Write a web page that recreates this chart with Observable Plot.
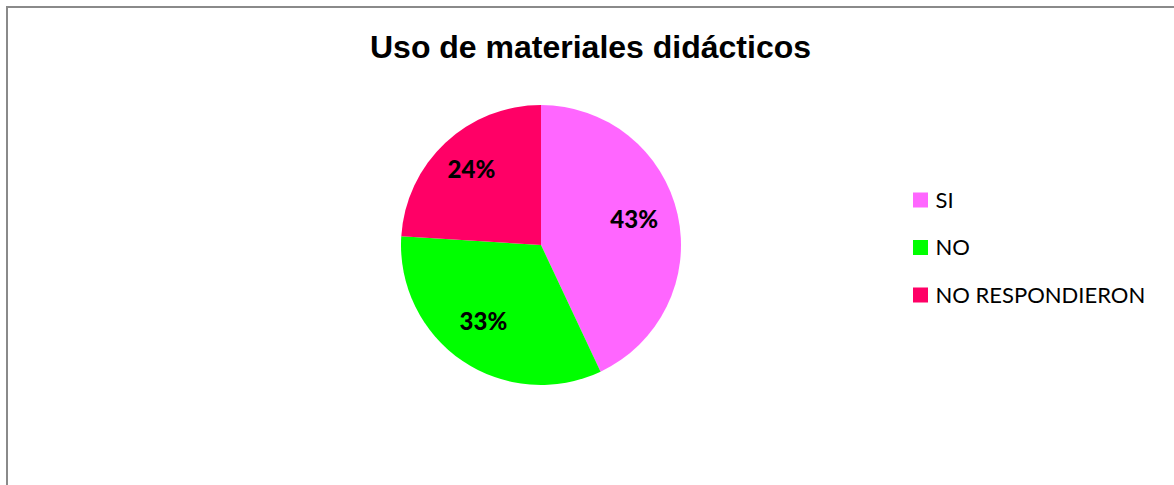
<!DOCTYPE html>
<html>
<head>
<meta charset="utf-8">
<script src="https://cdn.jsdelivr.net/npm/d3@7"></script>
<script src="https://cdn.jsdelivr.net/npm/@observablehq/plot@0.6"></script>
<style>
  html, body { margin: 0; padding: 0; background: #fff; }
  #wrap { position: relative; width: 1174px; height: 485px; overflow: hidden; }
  #border { position: absolute; left: 6px; top: 6px; width: 1200px; height: 520px;
            border: 2px solid #8a8a8a; box-sizing: border-box; pointer-events: none; }
</style>
</head>
<body>
<div id="wrap"><div id="border"></div></div>
<script>
// ---- data ----
const title = "Uso de materiales didácticos";
const categories = ["SI", "NO", "NO RESPONDIERON"];
const values = [43, 33, 24];
const labels = ["43%", "33%", "24%"];
const colors = ["#FF66FF", "#00FF00", "#FF0066"];

// ---- layout ----
const W = 1174, H = 485;
const cx = 541, cy = 245, R = 140;

const rows = categories.map((c, i) => ({category: c, value: values[i], label: labels[i], color: colors[i], i}));
const pie = d3.pie().sort(null).value(d => d.value)(rows);
const arc = d3.arc().innerRadius(0).outerRadius(R);
const labelArc = d3.arc().innerRadius(98).outerRadius(98);
const labelData = pie.map(p => {
  const [x, y] = labelArc.centroid(p);
  return {label: p.data.label, x: cx + x - 3, y: cy + y - 4};
});

const legendY = i => 200 + i * 47.5;
const legendData = rows.map(d => ({...d, y: legendY(d.i)}));

function slices(index, scales, values, dims) {
  const g = d3.create("svg:g").attr("transform", `translate(${cx},${cy})`);
  g.selectAll("path").data(pie).join("path")
    .attr("d", arc)
    .attr("fill", p => scales.color(p.data.category));
  return g.node();
}

const chart = Plot.plot({
  width: W, height: H,
  margin: 0,
  x: {type: "identity", axis: null},
  y: {type: "identity", axis: null},
  color: {domain: categories, range: colors},
  style: {background: "transparent"},
  marks: [
    slices,
    Plot.text(labelData, {x: "x", y: "y", text: "label", fontSize: 24, fontWeight: 900,
      fontFamily: "Lato", fill: "#000"}),
    Plot.rect(legendData, {x1: 913, x2: 928, y1: d => d.y - 7.5, y2: d => d.y + 7.5, fill: "category"}),
    Plot.text(legendData, {x: 935, y: "y", text: "category", textAnchor: "start", fontSize: 22,
      fontFamily: "Lato", fill: "#000"}),
    Plot.text([title], {x: 590, y: 47, text: d => d, fontSize: 32, fontWeight: "bold",
      fontFamily: "Liberation Sans", fill: "#000"})
  ]
});
document.getElementById("wrap").prepend(chart);
</script>
</body>
</html>
